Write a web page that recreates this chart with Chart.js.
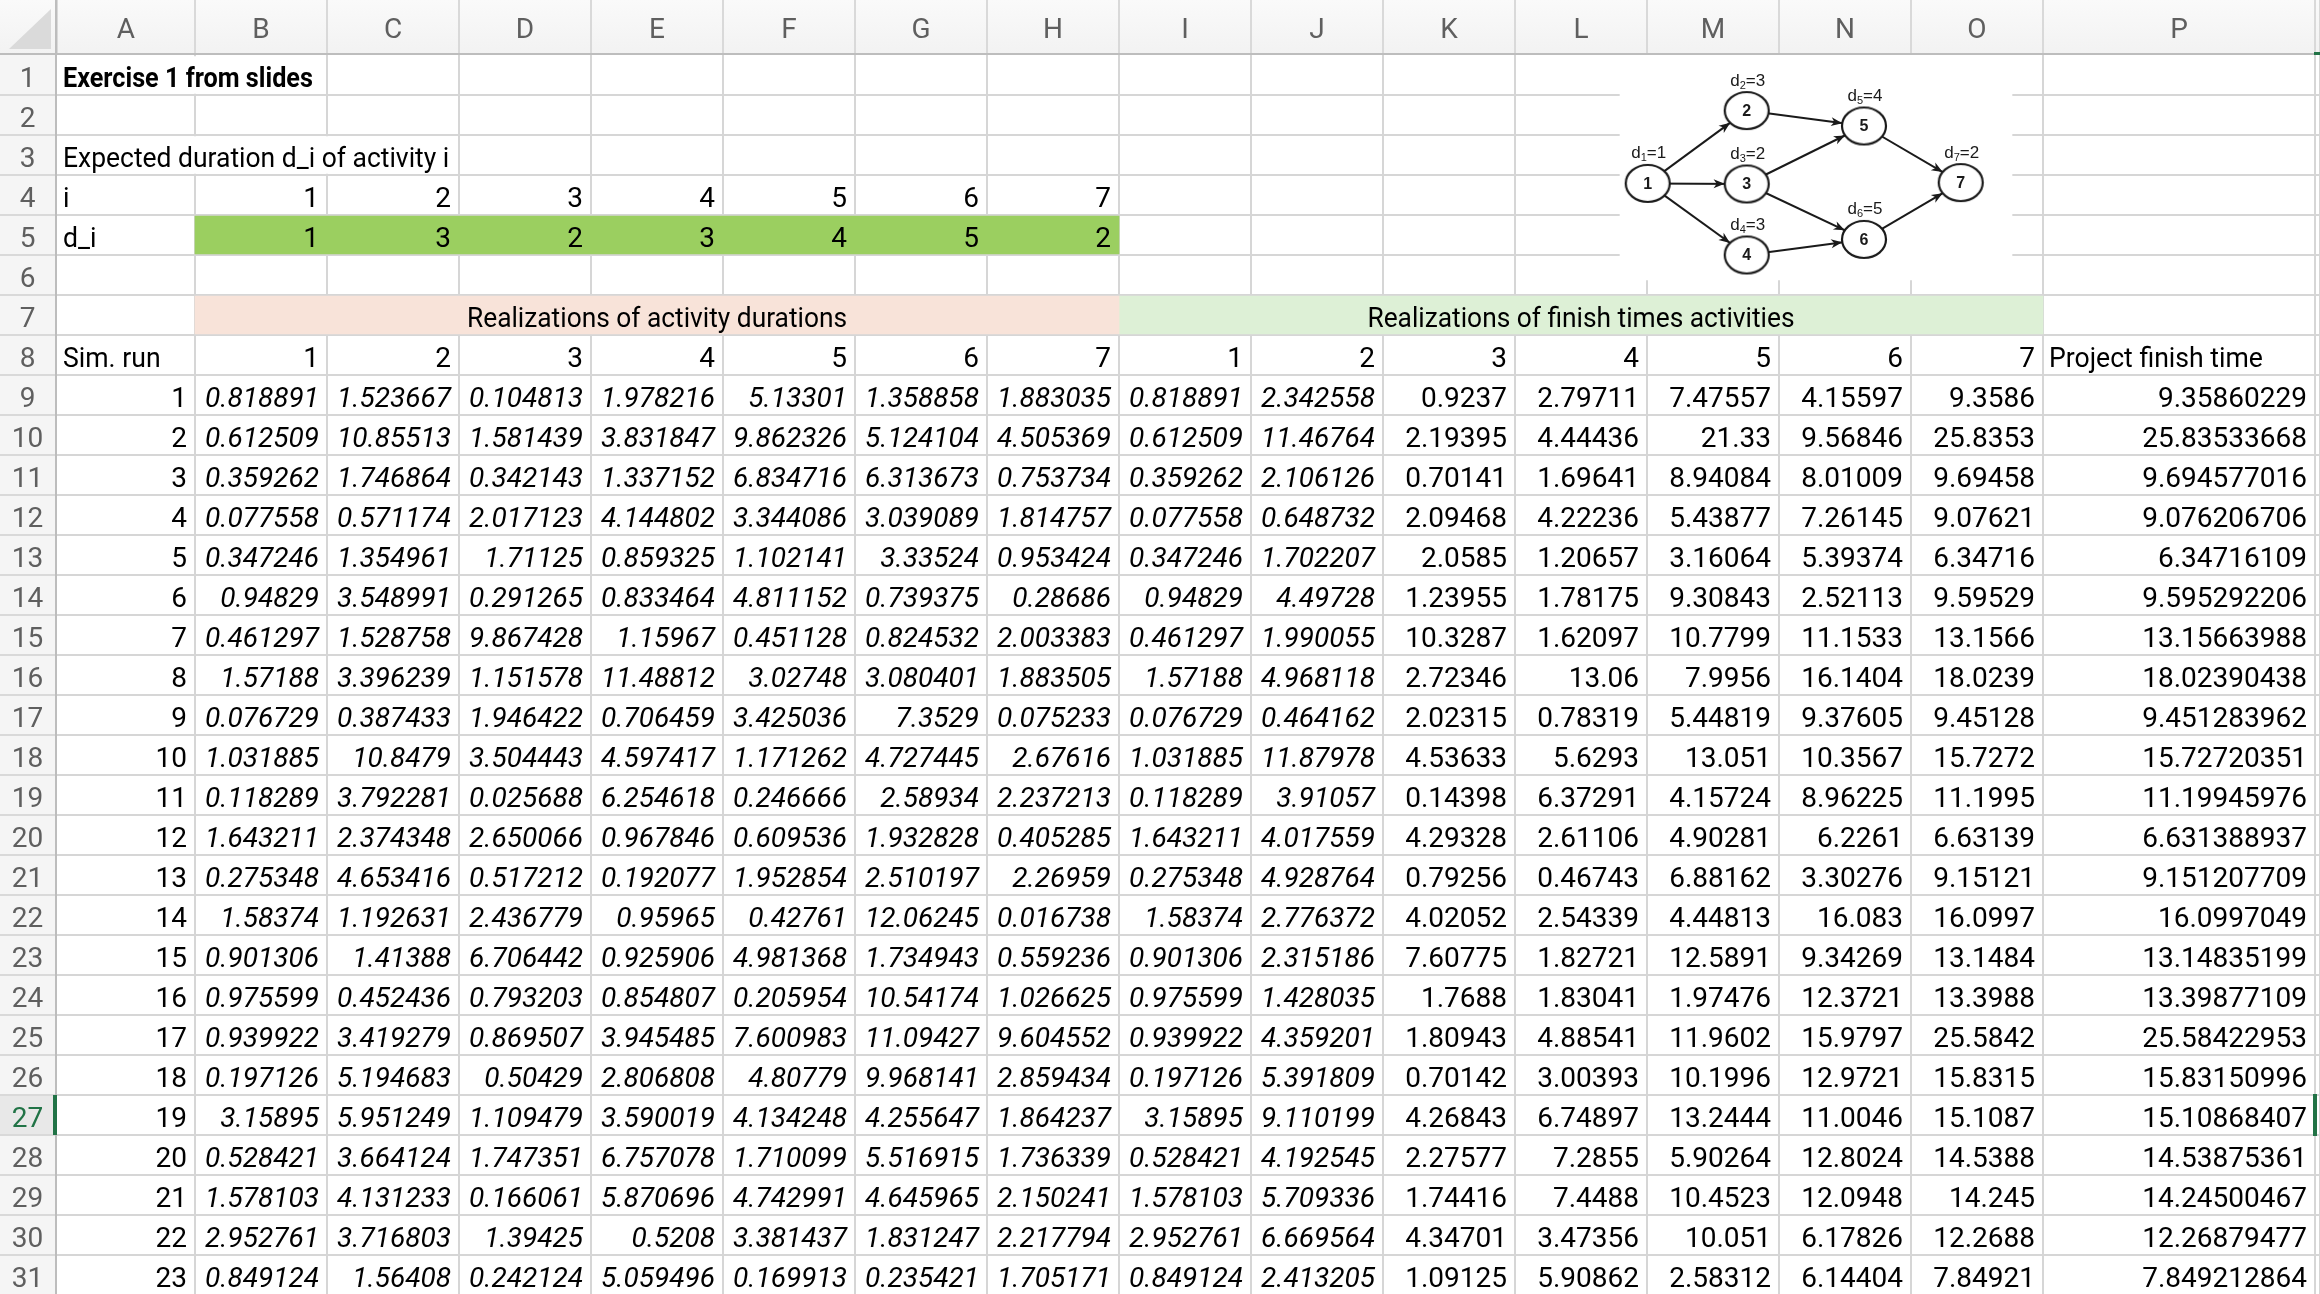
<!DOCTYPE html>
<html>
<head>
<meta charset="utf-8">
<script src="https://cdn.jsdelivr.net/npm/chart.js@4.4.1/dist/chart.umd.min.js"></script>
<style>
  html, body { margin: 0; padding: 0; background: #ffffff; overflow: hidden; }
  canvas { display: block; }
</style>
</head>
<body>
<canvas id="sheet" width="2320" height="1294"></canvas>
<script>
// ---------------- DATA ----------------
const columnLetters = ['A','B','C','D','E','F','G','H','I','J','K','L','M','N','O','P'];
const title = 'Exercise 1 from slides';
const expectedLabel = 'Expected duration d_i of activity i';
const activityIds = [1, 2, 3, 4, 5, 6, 7];
const expectedDurations = [1, 3, 2, 3, 4, 5, 2];
const durationsHeader = 'Realizations of activity durations';
const finishHeader = 'Realizations of finish times activities';
const simRunLabel = 'Sim. run';
const projectLabel = 'Project finish time';
const simRuns = [1,2,3,4,5,6,7,8,9,10,11,12,13,14,15,16,17,18,19,20,21,22,23];

// realizations of activity durations (activities 1..7), one list per run
const durations = [
  [0.818891, 1.523667, 0.104813, 1.978216, 5.13301, 1.358858, 1.883035],
  [0.612509, 10.85513, 1.581439, 3.831847, 9.862326, 5.124104, 4.505369],
  [0.359262, 1.746864, 0.342143, 1.337152, 6.834716, 6.313673, 0.753734],
  [0.077558, 0.571174, 2.017123, 4.144802, 3.344086, 3.039089, 1.814757],
  [0.347246, 1.354961, 1.71125, 0.859325, 1.102141, 3.33524, 0.953424],
  [0.94829, 3.548991, 0.291265, 0.833464, 4.811152, 0.739375, 0.28686],
  [0.461297, 1.528758, 9.867428, 1.15967, 0.451128, 0.824532, 2.003383],
  [1.57188, 3.396239, 1.151578, 11.48812, 3.02748, 3.080401, 1.883505],
  [0.076729, 0.387433, 1.946422, 0.706459, 3.425036, 7.3529, 0.075233],
  [1.031885, 10.8479, 3.504443, 4.597417, 1.171262, 4.727445, 2.67616],
  [0.118289, 3.792281, 0.025688, 6.254618, 0.246666, 2.58934, 2.237213],
  [1.643211, 2.374348, 2.650066, 0.967846, 0.609536, 1.932828, 0.405285],
  [0.275348, 4.653416, 0.517212, 0.192077, 1.952854, 2.510197, 2.26959],
  [1.58374, 1.192631, 2.436779, 0.95965, 0.42761, 12.06245, 0.016738],
  [0.901306, 1.41388, 6.706442, 0.925906, 4.981368, 1.734943, 0.559236],
  [0.975599, 0.452436, 0.793203, 0.854807, 0.205954, 10.54174, 1.026625],
  [0.939922, 3.419279, 0.869507, 3.945485, 7.600983, 11.09427, 9.604552],
  [0.197126, 5.194683, 0.50429, 2.806808, 4.80779, 9.968141, 2.859434],
  [3.15895, 5.951249, 1.109479, 3.590019, 4.134248, 4.255647, 1.864237],
  [0.528421, 3.664124, 1.747351, 6.757078, 1.710099, 5.516915, 1.736339],
  [1.578103, 4.131233, 0.166061, 5.870696, 4.742991, 4.645965, 2.150241],
  [2.952761, 3.716803, 1.39425, 0.5208, 3.381437, 1.831247, 2.217794],
  [0.849124, 1.56408, 0.242124, 5.059496, 0.169913, 0.235421, 1.705171]
];

// realizations of finish times of activities 1..7, one list per run
const finishTimes = [
  [0.818891, 2.342558, 0.9237, 2.79711, 7.47557, 4.15597, 9.3586],
  [0.612509, 11.46764, 2.19395, 4.44436, 21.33, 9.56846, 25.8353],
  [0.359262, 2.106126, 0.70141, 1.69641, 8.94084, 8.01009, 9.69458],
  [0.077558, 0.648732, 2.09468, 4.22236, 5.43877, 7.26145, 9.07621],
  [0.347246, 1.702207, 2.0585, 1.20657, 3.16064, 5.39374, 6.34716],
  [0.94829, 4.49728, 1.23955, 1.78175, 9.30843, 2.52113, 9.59529],
  [0.461297, 1.990055, 10.3287, 1.62097, 10.7799, 11.1533, 13.1566],
  [1.57188, 4.968118, 2.72346, 13.06, 7.9956, 16.1404, 18.0239],
  [0.076729, 0.464162, 2.02315, 0.78319, 5.44819, 9.37605, 9.45128],
  [1.031885, 11.87978, 4.53633, 5.6293, 13.051, 10.3567, 15.7272],
  [0.118289, 3.91057, 0.14398, 6.37291, 4.15724, 8.96225, 11.1995],
  [1.643211, 4.017559, 4.29328, 2.61106, 4.90281, 6.2261, 6.63139],
  [0.275348, 4.928764, 0.79256, 0.46743, 6.88162, 3.30276, 9.15121],
  [1.58374, 2.776372, 4.02052, 2.54339, 4.44813, 16.083, 16.0997],
  [0.901306, 2.315186, 7.60775, 1.82721, 12.5891, 9.34269, 13.1484],
  [0.975599, 1.428035, 1.7688, 1.83041, 1.97476, 12.3721, 13.3988],
  [0.939922, 4.359201, 1.80943, 4.88541, 11.9602, 15.9797, 25.5842],
  [0.197126, 5.391809, 0.70142, 3.00393, 10.1996, 12.9721, 15.8315],
  [3.15895, 9.110199, 4.26843, 6.74897, 13.2444, 11.0046, 15.1087],
  [0.528421, 4.192545, 2.27577, 7.2855, 5.90264, 12.8024, 14.5388],
  [1.578103, 5.709336, 1.74416, 7.4488, 10.4523, 12.0948, 14.245],
  [2.952761, 6.669564, 4.34701, 3.47356, 10.051, 6.17826, 12.2688],
  [0.849124, 2.413205, 1.09125, 5.90862, 2.58312, 6.14404, 7.84921]
];

const projectFinish = [
  9.35860229, 25.83533668, 9.694577016, 9.076206706, 6.34716109, 9.595292206,
  13.15663988, 18.02390438, 9.451283962, 15.72720351, 11.19945976, 6.631388937,
  9.151207709, 16.0997049, 13.14835199, 13.39877109, 25.58422953, 15.83150996,
  15.10868407, 14.53875361, 14.24500467, 12.26879477, 7.849212864
];

// project network (picture in the sheet)
const networkNodes = [1, 2, 3, 4, 5, 6, 7];
const networkEdges = [[1,2],[1,3],[1,4],[2,5],[3,5],[3,6],[4,6],[5,7],[6,7]];

// ---------------- LAYOUT (sizes / positions only) ----------------
const HEADER_H = 55, ROWHDR_W = 57, ROW_H = 40;
const colWidths = [138,132,132,132,132,132,132,132,132,132,132,132,132,132,132,272,5];
const colStart = []; { let s = 0; for (const w of colWidths) { colStart.push(s); s += w; } colStart.push(s); }
const X_MAX = 2320 - ROWHDR_W;
const Y_MAX = (1294 - HEADER_H) / ROW_H;
const FIRST_DATA_ROW = 9;
// picture frame and node placement (x in sheet x-units, y in row units)
const pictureBox = { x0: 1563, x1: 1955, y0: 0, y1: 5.625 };
const nodePos = {
  1: [1590.7, 3.21], 2: [1689.7, 1.39], 3: [1689.7, 3.225], 4: [1689.7, 5.0],
  5: [1807, 1.775], 6: [1807, 4.61], 7: [1903.7, 3.19]
};
const NODE_RX = 22, NODE_RY = 18.5;

const FONT = '"Roboto", "Liberation Sans", Arial, sans-serif';
const FS = 28;
const DFONT = '"Liberation Sans", Arial, sans-serif';

const colL = c => colStart[c];
const colR = c => colStart[c + 1];
const colC = c => (colStart[c] + colStart[c + 1]) / 2;

// ---------------- TEXT DATASETS ----------------
function textSet(points, opts) {
  return Object.assign({ type: 'scatter', data: points, pointRadius: 0, pointHoverRadius: 0, pointHitRadius: 0,
    isText: true, showLine: false, order: 0, squeeze: 1 }, opts);
}
const textSets = [];
textSets.push(textSet([{ x: colL(0), y: 0.5, t: title }], { align: 'left', bold: true, squeeze: 0.9 }));
textSets.push(textSet([{ x: colL(0), y: 2.5, t: expectedLabel }], { align: 'left', squeeze: 0.945 }));
textSets.push(textSet([{ x: colL(0), y: 3.5, t: 'i' }, { x: colL(0), y: 4.5, t: 'd_i' }], { align: 'left', squeeze: 0.95 }));
textSets.push(textSet(activityIds.map((a, k) => ({ x: colR(1 + k), y: 3.5, t: String(a) })), { align: 'right' }));
textSets.push(textSet(expectedDurations.map((d, k) => ({ x: colR(1 + k), y: 4.5, t: String(d) })), { align: 'right' }));
textSets.push(textSet([{ x: (colL(1) + colR(7)) / 2, y: 6.5, t: durationsHeader },
                       { x: (colL(8) + colR(14)) / 2, y: 6.5, t: finishHeader }], { align: 'center', squeeze: 0.94 }));
textSets.push(textSet([{ x: colL(0), y: 7.5, t: simRunLabel }, { x: colL(15), y: 7.5, t: projectLabel }], { align: 'left', squeeze: 0.95 }));
textSets.push(textSet(activityIds.map((a, k) => ({ x: colR(1 + k), y: 7.5, t: String(a) }))
  .concat(activityIds.map((a, k) => ({ x: colR(8 + k), y: 7.5, t: String(a) }))), { align: 'right' }));
textSets.push(textSet(simRuns.map((r, i) => ({ x: colR(0), y: FIRST_DATA_ROW - 0.5 + i, t: String(r) })), { align: 'right' }));
textSets.push(textSet([].concat(...durations.map((row, i) => row.map((v, k) =>
  ({ x: colR(1 + k), y: FIRST_DATA_ROW - 0.5 + i, t: String(v) })))), { align: 'right', italic: true }));
textSets.push(textSet([].concat(...finishTimes.map((row, i) => row.slice(0, 2).map((v, k) =>
  ({ x: colR(8 + k), y: FIRST_DATA_ROW - 0.5 + i, t: String(v) })))), { align: 'right', italic: true }));
textSets.push(textSet([].concat(...finishTimes.map((row, i) => row.slice(2).map((v, k) =>
  ({ x: colR(10 + k), y: FIRST_DATA_ROW - 0.5 + i, t: String(v) })))), { align: 'right' }));
textSets.push(textSet(projectFinish.map((v, i) => ({ x: colR(15), y: FIRST_DATA_ROW - 0.5 + i, t: String(v) })), { align: 'right' }));

// ---------------- FILL DATASETS (floating horizontal bars) ----------------
function fillSet(bars, color, thickness, order) {
  return { type: 'bar', indexAxis: 'y', data: bars, backgroundColor: color, borderWidth: 0,
    barThickness: thickness, grouped: false, order: order, isFill: true };
}
const fillSets = [
  // cells overflowed by text hide their inner gridlines
  fillSet([{ y: 0.5, x: [colL(0) + 2, colR(1) - 2] }, { y: 2.5, x: [colL(0) + 2, colR(2) - 2] }], '#ffffff', ROW_H - 3, 20),
  fillSet([{ y: 4.5, x: [colL(1), colR(7)] }], '#9BCF60', ROW_H - 2, 20),
  fillSet([{ y: 6.5, x: [colL(1), colR(7)] }], '#F8E3D9', ROW_H - 2, 20),
  fillSet([{ y: 6.5, x: [colL(8), colR(14)] }], '#DDF0D6', ROW_H - 2, 20),
  fillSet([{ y: (pictureBox.y0 + pictureBox.y1) / 2, x: [pictureBox.x0, pictureBox.x1] }], '#ffffff',
    (pictureBox.y1 - pictureBox.y0) * ROW_H, 19)
];

// ---------------- NETWORK DATASETS ----------------
function ellipseImage() {
  const c = document.createElement('canvas');
  c.width = 2 * NODE_RX + 4; c.height = Math.ceil(2 * NODE_RY + 4);
  const g = c.getContext('2d');
  g.beginPath();
  g.ellipse(c.width / 2, c.height / 2, NODE_RX, NODE_RY, 0, 0, Math.PI * 2);
  g.fillStyle = '#ffffff'; g.fill();
  g.lineWidth = 2.2; g.strokeStyle = '#1a1a1a'; g.stroke();
  return c;
}
const edgeSets = networkEdges.map(([a, b]) => ({
  type: 'line', data: [{ x: nodePos[a][0], y: nodePos[a][1] }, { x: nodePos[b][0], y: nodePos[b][1] }],
  borderColor: '#1a1a1a', borderWidth: 2, pointRadius: 0, pointHitRadius: 0, fill: false, order: 10, isEdge: true
}));
const nodeSet = {
  type: 'scatter', isNode: true, order: 5,
  data: networkNodes.map((n, k) => ({ x: nodePos[n][0], y: nodePos[n][1], id: n, d: expectedDurations[k] })),
  pointStyle: ellipseImage(), pointRadius: 20, pointHoverRadius: 20
};

// ---------------- PLUGIN ----------------
function ellipseEdge(x0, y0, x1, y1) {
  const dx = x1 - x0, dy = y1 - y0;
  const t = 1 / Math.sqrt((dx * dx) / (NODE_RX * NODE_RX) + (dy * dy) / (NODE_RY * NODE_RY));
  return [dx * t, dy * t];
}

const sheetPlugin = {
  id: 'sheet',
  afterDatasetsDraw(chart) {
    const ctx = chart.ctx;
    ctx.save();
    chart.data.datasets.forEach((ds, di) => {
      const meta = chart.getDatasetMeta(di);
      if (ds.isText) {
        ctx.font = (ds.italic ? 'italic ' : '') + (ds.bold ? 'bold ' : '') + FS + 'px ' + FONT;
        ctx.fillStyle = '#000000';
        ctx.textBaseline = 'alphabetic';
        ctx.textAlign = ds.align;
        const pad = ds.align === 'right' ? -8 : ds.align === 'left' ? 6 : 0;
        meta.data.forEach((el, i) => {
          ctx.save();
          ctx.translate(el.x + pad, el.y + 0.3 * ROW_H);
          ctx.scale(ds.squeeze, 1);
          ctx.fillText(ds.data[i].t, 0, 0);
          ctx.restore();
        });
      }
      if (ds.isEdge) {
        const p0 = meta.data[0], p1 = meta.data[1];
        const [ex, ey] = ellipseEdge(p0.x, p0.y, p1.x, p1.y);
        const tx = p1.x - ex, ty = p1.y - ey;
        const ang = Math.atan2(p1.y - p0.y, p1.x - p0.x);
        ctx.fillStyle = '#1a1a1a';
        ctx.beginPath();
        ctx.moveTo(tx, ty);
        ctx.lineTo(tx - 12 * Math.cos(ang - 0.38), ty - 12 * Math.sin(ang - 0.38));
        ctx.lineTo(tx - 8 * Math.cos(ang), ty - 8 * Math.sin(ang));
        ctx.lineTo(tx - 12 * Math.cos(ang + 0.38), ty - 12 * Math.sin(ang + 0.38));
        ctx.closePath();
        ctx.fill();
      }
      if (ds.isNode) {
        meta.data.forEach((el, i) => {
          ctx.fillStyle = '#1a1a1a';
          ctx.textAlign = 'center';
          ctx.textBaseline = 'middle';
          ctx.font = 'bold 16px ' + DFONT;
          ctx.fillText(String(ds.data[i].id), el.x, el.y + 1);
          // label d_k=value with subscript
          const lx = el.x + 1, ly = el.y - 31;
          ctx.font = '17px ' + DFONT;
          const w1 = ctx.measureText('d').width;
          const rest = '=' + ds.data[i].d;
          const w3 = ctx.measureText(rest).width;
          ctx.font = '11px ' + DFONT;
          const w2 = ctx.measureText(String(ds.data[i].id)).width;
          let x = lx - (w1 + w2 + w3) / 2;
          ctx.textAlign = 'left';
          ctx.textBaseline = 'alphabetic';
          ctx.font = '17px ' + DFONT;
          ctx.fillText('d', x, ly + 6); x += w1;
          ctx.font = '11px ' + DFONT;
          ctx.fillText(String(ds.data[i].id), x, ly + 9); x += w2;
          ctx.font = '17px ' + DFONT;
          ctx.fillText(rest, x, ly + 6);
        });
      }
    });
    ctx.restore();
  },
  afterDraw(chart) {
    const ctx = chart.ctx;
    const xs = chart.scales.x, ys = chart.scales.y;
    const W = chart.width, H = chart.height;
    ctx.save();
    // column header band
    const grad = ctx.createLinearGradient(0, 0, 0, HEADER_H);
    grad.addColorStop(0, '#fafafa'); grad.addColorStop(1, '#f2f2f2');
    ctx.fillStyle = grad;
    ctx.fillRect(0, 0, W, HEADER_H);
    // row header band
    ctx.fillStyle = '#f5f5f5';
    ctx.fillRect(0, HEADER_H, ROWHDR_W, H - HEADER_H);
    // selected row header
    const selRow = 27;
    const sy0 = ys.getPixelForValue(selRow - 1), sy1 = ys.getPixelForValue(selRow);
    ctx.fillStyle = '#e8e8e8';
    ctx.fillRect(0, sy0, ROWHDR_W, sy1 - sy0);
    // separators in the header
    ctx.fillStyle = '#d9d9d9';
    for (let c = 0; c < colStart.length; c++) {
      const px = Math.round(xs.getPixelForValue(colStart[c]));
      ctx.fillRect(px - 1, 0, 2, HEADER_H);
    }
    for (let r = 1; r <= 31; r++) {
      const py = Math.round(ys.getPixelForValue(r));
      ctx.fillRect(0, py - 1, ROWHDR_W, 2);
    }
    // corner triangle
    ctx.fillStyle = '#dadada';
    ctx.beginPath();
    ctx.moveTo(9, 49); ctx.lineTo(51, 9); ctx.lineTo(51, 49); ctx.closePath(); ctx.fill();
    // header borders
    ctx.fillStyle = '#bdbdbd';
    ctx.fillRect(0, HEADER_H - 2, W, 2);
    ctx.fillRect(ROWHDR_W - 2, 0, 2, H);
    // selection marks
    ctx.fillStyle = '#217346';
    ctx.fillRect(ROWHDR_W - 4, sy0, 4, sy1 - sy0);
    const qx = Math.round(xs.getPixelForValue(colStart[16]));
    ctx.fillRect(qx - 1, HEADER_H - 3, W - qx + 1, 3);
    ctx.fillRect(qx - 2, sy0 - 1, 4, sy1 - sy0 + 2);
    // column letters
    ctx.font = FS + 'px ' + FONT;
    ctx.textAlign = 'center';
    ctx.textBaseline = 'alphabetic';
    ctx.fillStyle = '#5f5f5f';
    columnLetters.forEach((L, c) => ctx.fillText(L, xs.getPixelForValue(colC(c)), 38));
    // row numbers
    for (let r = 1; r <= 31; r++) {
      ctx.fillStyle = r === selRow ? '#217346' : '#5f5f5f';
      ctx.fillText(String(r), ROWHDR_W / 2 - 1, ys.getPixelForValue(r - 0.5) + 0.3 * ROW_H);
    }
    ctx.restore();
  }
};

// ---------------- CHART ----------------
const colBoundaries = colStart.slice(1);
const rowBoundaries = []; for (let r = 1; r <= 31; r++) rowBoundaries.push(r);

new Chart(document.getElementById('sheet'), {
  type: 'scatter',
  data: { datasets: [...textSets, nodeSet, ...edgeSets, ...fillSets] },
  options: {
    responsive: false, maintainAspectRatio: false, animation: false, devicePixelRatio: 1,
    layout: { padding: 0, autoPadding: false },
    events: [],
    clip: false,
    plugins: { legend: { display: false }, tooltip: { enabled: false } },
    scales: {
      x: {
        type: 'linear', position: 'top', min: 0, max: X_MAX, offset: false, beginAtZero: false,
        afterBuildTicks(s) { s.ticks = colBoundaries.map(v => ({ value: v })); },
        afterFit(s) { s.height = HEADER_H; s.paddingLeft = 0; s.paddingRight = 0; s.paddingTop = 0; s.paddingBottom = 0; },
        ticks: { display: false },
        grid: { color: '#d6d6d6', lineWidth: 2, drawTicks: false, tickLength: 0, offset: false },
        border: { display: false }
      },
      y: {
        type: 'linear', position: 'left', reverse: true, min: 0, max: Y_MAX, offset: false,
        afterBuildTicks(s) { s.ticks = rowBoundaries.map(v => ({ value: v })); },
        afterFit(s) { s.width = ROWHDR_W; s.paddingLeft = 0; s.paddingRight = 0; s.paddingTop = 0; s.paddingBottom = 0; },
        ticks: { display: false },
        grid: { color: '#d6d6d6', lineWidth: 2, drawTicks: false, tickLength: 0, offset: false },
        border: { display: false }
      }
    }
  },
  plugins: [sheetPlugin]
});
</script>
</body>
</html>
